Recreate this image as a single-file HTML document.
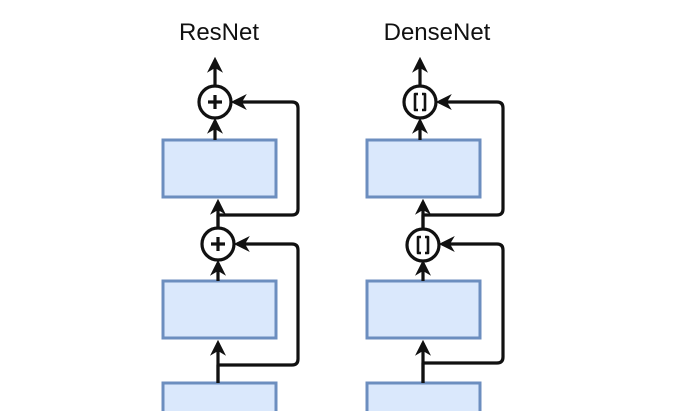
<!DOCTYPE html>
<html><head><style>
body{margin:0;background:#fff;}
svg{display:block;}
</style></head><body>
<svg width="697" height="411" viewBox="0 0 697 411" xmlns="http://www.w3.org/2000/svg">
<defs>
<marker id="a" viewBox="0 0 10 10" refX="8" refY="5" markerWidth="5" markerHeight="5" orient="auto-start-reverse">
<path d="M0,0 L10,5 L0,10 L3,5 z" fill="#111"/>
</marker>
</defs>
<g font-family="Liberation Sans, sans-serif" font-size="24" fill="#111" text-anchor="middle">
<text x="219" y="40">ResNet</text>
<text x="437" y="40">DenseNet</text>
</g>
<g stroke="#6c8ebf" stroke-width="3" fill="#dae8fc">
<rect x="163" y="140" width="113" height="57"/>
<rect x="163" y="281" width="113" height="57"/>
<rect x="163" y="383" width="113" height="40"/>
<rect x="367" y="140" width="113" height="57"/>
<rect x="367" y="281" width="113" height="57"/>
<rect x="367" y="383" width="113" height="40"/>
</g>
<g stroke="#111" stroke-width="3.2" fill="none" stroke-linejoin="round">
<line x1="215" y1="86" x2="215" y2="60" marker-end="url(#a)"/>
<line x1="215" y1="140" x2="215" y2="121" marker-end="url(#a)"/>
<path d="M218 228 V215 H292 Q298 215 298 209 V108 Q298 102 292 102 H234" marker-end="url(#a)"/>
<line x1="218" y1="228" x2="218" y2="202" marker-end="url(#a)"/>
<line x1="218" y1="281" x2="218" y2="263" marker-end="url(#a)"/>
<path d="M218 383 V365 H292 Q298 365 298 359 V250 Q298 244 292 244 H237" marker-end="url(#a)"/>
<line x1="218" y1="383" x2="218" y2="343" marker-end="url(#a)"/>
<circle cx="215" cy="102" r="16" fill="#fff"/>
<circle cx="218" cy="244" r="16" fill="#fff"/>
<path d="M215 95 V109 M208 102 H222 M218 237 V251 M211 244 H225"/>
<line x1="420" y1="86" x2="420" y2="60" marker-end="url(#a)"/>
<line x1="420" y1="140" x2="420" y2="121" marker-end="url(#a)"/>
<path d="M423 228 V215 H497 Q503 215 503 209 V108 Q503 102 497 102 H439" marker-end="url(#a)"/>
<line x1="423" y1="228" x2="423" y2="202" marker-end="url(#a)"/>
<line x1="423" y1="281" x2="423" y2="263" marker-end="url(#a)"/>
<path d="M423 383 V363 H497 Q503 363 503 357 V250 Q503 244 497 244 H442" marker-end="url(#a)"/>
<line x1="423" y1="383" x2="423" y2="343" marker-end="url(#a)"/>
<circle cx="420" cy="102" r="16" fill="#fff"/>
<circle cx="423" cy="245" r="16" fill="#fff"/>
<path d="M418 94 H415 V110 H418 M422 94 H425 V110 H422" stroke-width="2.6"/>
<path d="M421 237 H418 V253 H421 M425 237 H428 V253 H425" stroke-width="2.6"/>
</g>
</svg>
</body></html>
